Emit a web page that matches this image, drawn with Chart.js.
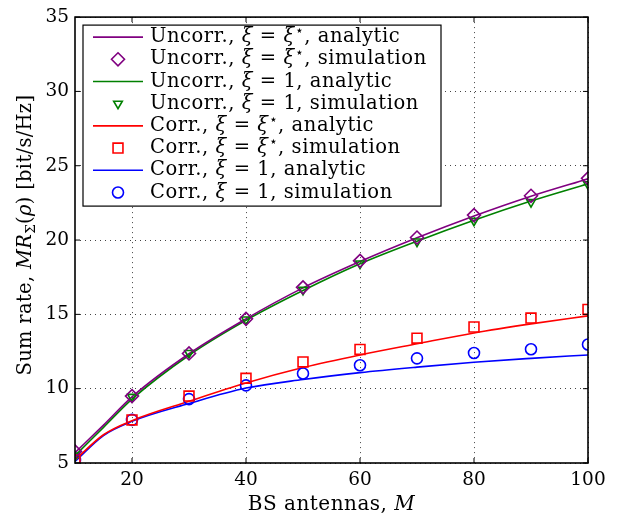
<!DOCTYPE html>
<html>
<head>
<meta charset="utf-8">
<script src="https://cdn.jsdelivr.net/npm/chart.js@4/dist/chart.umd.min.js"></script>
<style>
  html, body { margin: 0; padding: 0; background: #fff; }
  #wrap { width: 623px; height: 518px; position: relative; }
</style>
</head>
<body>
<div id="wrap"><canvas id="chartRate"></canvas></div>
<script>
// valores
const simM = [10, 20, 30, 40, 50, 60, 70, 80, 90, 100];
const analyticM = [10, 15, 20, 30, 40, 50, 60, 70, 80, 90, 100];

const uncorrOptAnalytic = [5.7, 7.55, 9.45, 12.35, 14.7, 16.78, 18.55, 20.15, 21.62, 22.95, 24.12];
const uncorrOptSim      = [5.78, 9.5, 12.37, 14.7, 16.82, 18.6, 20.17, 21.68, 22.98, 24.15];
const uncorrOneAnalytic = [5.5, 7.4, 9.3, 12.25, 14.6, 16.6, 18.4, 19.92, 21.33, 22.62, 23.78];
const uncorrOneSim      = [5.5, 9.45, 12.4, 14.65, 16.65, 18.42, 19.9, 21.3, 22.55, 23.75];
const corrOptAnalytic   = [5.2, 6.9, 7.85, 9.15, 10.38, 11.42, 12.27, 13.02, 13.75, 14.36, 14.9];
const corrOptSim        = [5.2, 7.9, 9.5, 10.7, 11.8, 12.64, 13.4, 14.15, 14.75, 15.33];
const corrOneAnalytic   = [5.1, 6.85, 7.8, 9.0, 10.04, 10.62, 11.08, 11.45, 11.78, 12.04, 12.27];
const corrOneSim        = [5.2, 7.9, 9.3, 10.22, 11.02, 11.58, 12.04, 12.4, 12.65, 12.97];

const seriesLabels = [
  "Uncorr., ξ = ξ⋆, analytic",
  "Uncorr., ξ = ξ⋆, simulation",
  "Uncorr., ξ = 1, analytic",
  "Uncorr., ξ = 1, simulation",
  "Corr., ξ = ξ⋆, analytic",
  "Corr., ξ = ξ⋆, simulation",
  "Corr., ξ = 1, analytic",
  "Corr., ξ = 1, simulation"
];

const xTicks = [20, 40, 60, 80, 100];
const yTicks = [5, 10, 15, 20, 25, 30, 35];

const FONT = "'DejaVu Serif', 'Liberation Serif', serif";
const PURPLE = "#800080", GREEN = "#008000", RED = "#ff0000", BLUE = "#0000ff";

function fontFor(s, size) {
  const sz = (s.sub || s.sup) ? size * 0.7 : size;
  return (s.italic ? "italic " : "") + sz + "px " + FONT;
}

// quebra o texto em pedaços: letras gregas em itálico, estrela sobrescrita
function parseLabel(txt) {
  const segs = [];
  for (const ch of txt) {
    let s;
    if (ch === "ξ" || ch === "ρ") s = { t: ch, italic: true };
    else if (ch === "⋆") s = { t: ch, sup: true };
    else s = { t: ch };
    const last = segs[segs.length - 1];
    if (last && !!last.italic === !!s.italic && !!last.sup === !!s.sup) last.t += s.t;
    else segs.push(s);
  }
  return segs;
}

function drawRich(ctx, segs, x, y, size, align, spacing) {
  ctx.letterSpacing = (spacing || 0) + "px";
  let w = 0;
  const parts = segs.map(s => {
    ctx.font = fontFor(s, size);
    const sw = ctx.measureText(s.t).width;
    w += sw;
    return { s, f: ctx.font, sw };
  });
  let cx = align === "center" ? x - w / 2 : x;
  ctx.textAlign = "left";
  ctx.textBaseline = "middle";
  parts.forEach(p => {
    ctx.font = p.f;
    const dy = p.s.sub ? size * 0.28 : p.s.sup ? -size * 0.3 : 0;
    ctx.fillText(p.s.t, cx, y + dy);
    cx += p.sw;
  });
  ctx.letterSpacing = "0px";
}

function drawMarker(ctx, ds, x, y) {
  const r = ds.pointRadius;
  ctx.save();
  ctx.strokeStyle = ds.pointBorderColor;
  ctx.lineWidth = ds.pointBorderWidth;
  ctx.beginPath();
  if (ds.pointStyle === "rectRot") {
    ctx.moveTo(x, y - r); ctx.lineTo(x + r, y); ctx.lineTo(x, y + r); ctx.lineTo(x - r, y); ctx.closePath();
  } else if (ds.pointStyle === "triangle") {
    // triângulo para baixo
    const hw = r * Math.sqrt(3) / 2;
    ctx.moveTo(x - hw, y - r / 2); ctx.lineTo(x + hw, y - r / 2); ctx.lineTo(x, y + r); ctx.closePath();
  } else if (ds.pointStyle === "rect") {
    const h = r * Math.SQRT1_2;
    ctx.rect(x - h, y - h, 2 * h, 2 * h);
  } else {
    ctx.arc(x, y, r, 0, Math.PI * 2);
  }
  ctx.stroke();
  ctx.restore();
}

const decorPlugin = {
  id: "decor",
  afterDraw(chart) {
    const { ctx, chartArea: a, scales } = chart;
    ctx.save();
    // moldura
    ctx.strokeStyle = "#000";
    ctx.lineWidth = 1.6;
    ctx.strokeRect(a.left, a.top, a.right - a.left, a.bottom - a.top);
    // marcas para dentro
    ctx.lineWidth = 1;
    ctx.beginPath();
    xTicks.forEach(v => {
      const px = scales.x.getPixelForValue(v);
      ctx.moveTo(px, a.bottom); ctx.lineTo(px, a.bottom - 5);
      ctx.moveTo(px, a.top); ctx.lineTo(px, a.top + 5);
    });
    yTicks.forEach(v => {
      const py = scales.y.getPixelForValue(v);
      ctx.moveTo(a.left, py); ctx.lineTo(a.left + 5, py);
      ctx.moveTo(a.right, py); ctx.lineTo(a.right - 5, py);
    });
    ctx.stroke();

    // títulos dos eixos
    ctx.fillStyle = "#000";
    drawRich(ctx, [{ t: "BS antennas, " }, { t: "M", italic: true }],
      (a.left + a.right) / 2, 505, 20, "center", 0.5);
    ctx.save();
    ctx.translate(26, (a.top + a.bottom) / 2 - 5);
    ctx.rotate(-Math.PI / 2);
    drawRich(ctx, [
      { t: "Sum rate, " }, { t: "MR", italic: true }, { t: "Σ", sub: true },
      { t: "(" }, { t: "ρ", italic: true }, { t: ") [bit/s/Hz]" }
    ], 0, 0, 19.5, "center", 0.3);
    ctx.restore();

    // legenda
    const bx = a.left + 8, by = a.top + 8, bw = 358, bh = 181;
    ctx.fillStyle = "#fff";
    ctx.fillRect(bx, by, bw, bh);
    ctx.strokeStyle = "#000";
    ctx.lineWidth = 1.2;
    ctx.strokeRect(bx, by, bw, bh);
    chart.data.datasets.forEach((ds, i) => {
      const yy = by + 12 + i * 22.2;
      if (ds.showLine) {
        ctx.strokeStyle = ds.borderColor;
        ctx.lineWidth = ds.borderWidth;
        ctx.beginPath();
        ctx.moveTo(bx + 10, yy); ctx.lineTo(bx + 60, yy);
        ctx.stroke();
      } else {
        drawMarker(ctx, ds, bx + 35, yy);
      }
      ctx.fillStyle = "#000";
      drawRich(ctx, parseLabel(ds.label), bx + 67, yy, 19.5, "left", 0.55);
    });
    ctx.restore();
  }
};

function lineSet(label, values, color, order) {
  return {
    label, data: values.map((v, i) => ({ x: analyticM[i], y: v })),
    showLine: true, borderColor: color, borderWidth: 1.6, pointRadius: 0,
    cubicInterpolationMode: "monotone", fill: false, order
  };
}

function pointSet(label, values, color, style, radius, order, rotation) {
  return {
    label, data: values.map((v, i) => ({ x: simM[i], y: v })),
    showLine: false, pointStyle: style, pointRadius: radius, pointRotation: rotation || 0,
    pointBorderColor: color, pointBackgroundColor: "rgba(0,0,0,0)",
    borderColor: color, pointBorderWidth: 1.6, order
  };
}

const ctx = document.getElementById("chartRate").getContext("2d");
new Chart(ctx, {
  type: "scatter",
  data: {
    datasets: [
      lineSet(seriesLabels[0], uncorrOptAnalytic, PURPLE, 5),
      pointSet(seriesLabels[1], uncorrOptSim, PURPLE, "rectRot", 6.5, 1),
      lineSet(seriesLabels[2], uncorrOneAnalytic, GREEN, 6),
      pointSet(seriesLabels[3], uncorrOneSim, GREEN, "triangle", 5, 3, 180),
      lineSet(seriesLabels[4], corrOptAnalytic, RED, 7),
      pointSet(seriesLabels[5], corrOptSim, RED, "rect", 7, 2),
      lineSet(seriesLabels[6], corrOneAnalytic, BLUE, 8),
      pointSet(seriesLabels[7], corrOneSim, BLUE, "circle", 5.5, 4)
    ]
  },
  options: {
    responsive: true,
    maintainAspectRatio: false,
    animation: false,
    layout: { padding: { left: 0, right: 35, top: 13, bottom: 0 } },
    plugins: { legend: { display: false }, tooltip: { enabled: false } },
    scales: {
      x: {
        type: "linear", min: 10, max: 100,
        afterBuildTicks: s => { s.ticks = xTicks.map(v => ({ value: v })); },
        afterFit: s => { s.height = 55; },
        grid: { color: "#444", lineWidth: 1, drawTicks: false },
        border: { display: false, dash: [1, 4] },
        ticks: { color: "#000", padding: 6, font: { family: FONT, size: 18.5 } }
      },
      y: {
        type: "linear", min: 5, max: 35,
        afterBuildTicks: s => { s.ticks = yTicks.map(v => ({ value: v })); },
        afterFit: s => { s.width = 75; },
        grid: { color: "#444", lineWidth: 1, drawTicks: false },
        border: { display: false, dash: [1, 4] },
        ticks: { color: "#000", padding: 6, font: { family: FONT, size: 18.5 } }
      }
    }
  },
  plugins: [decorPlugin]
});
</script>
</body>
</html>
